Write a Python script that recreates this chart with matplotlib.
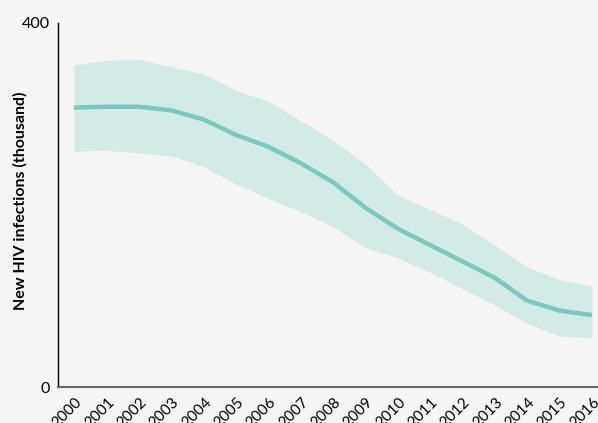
import matplotlib
matplotlib.use("Agg")
import matplotlib.pyplot as plt
import matplotlib.transforms as mtransforms

plt.rcParams["font.family"] = ["Lato", "DejaVu Sans"]

years = list(range(2000, 2017))
new_infections = [307, 308, 308, 304, 294, 277, 264, 246, 225, 197, 174, 156, 138, 120, 95, 84, 79]
upper_bound = [354, 359, 360, 352, 344, 326, 314, 293, 271, 245, 211, 195, 179, 156, 132, 118, 111]
lower_bound = [259, 260, 257, 254, 242, 223, 207, 193, 176, 153, 142, 126, 108, 90, 70, 56, 54]

bg = "#f5f5f5"
fig = plt.figure(figsize=(5.98, 4.23), dpi=100, facecolor=bg)
ax = fig.add_axes([58 / 598, 36 / 423, 540 / 598, 364 / 423], facecolor=bg)

ax.fill_between(years, lower_bound, upper_bound, color="#d3ebe7", linewidth=0)
ax.plot(years, new_infections, color="#7cc8be", linewidth=3.2, solid_capstyle="butt")

ax.set_xlim(1999.5, 2016.19)
ax.set_ylim(0, 400)
ax.set_yticks([0, 400])
ax.set_yticklabels(["0", "400"], fontsize=11.5)
ax.set_xticks(years)
ax.set_xticklabels([])
ax.tick_params(axis="both", length=0)
ax.tick_params(axis="y", pad=6)

# slanted year labels, each ending just right of and below its tick
label_tf = ax.get_xaxis_transform() + mtransforms.ScaledTranslation(4 / 72, -9.5 / 72, fig.dpi_scale_trans)
for y in years:
    ax.text(y, 0, str(y), transform=label_tf, fontsize=11, rotation=45,
            ha="right", va="center", rotation_mode="anchor", clip_on=False)

for side in ("top", "right"):
    ax.spines[side].set_visible(False)
ax.spines["left"].set_color("black")
ax.spines["left"].set_linewidth(1.0)
ax.spines["bottom"].set_color("#666666")
ax.spines["bottom"].set_linewidth(1.5)

fig.text(20 / 598, 1 - 201 / 423, "New HIV infections (thousand)", rotation=90,
         fontsize=11.5, fontweight="bold", ha="center", va="center")

fig.savefig("out.png", dpi=100, facecolor=bg)
